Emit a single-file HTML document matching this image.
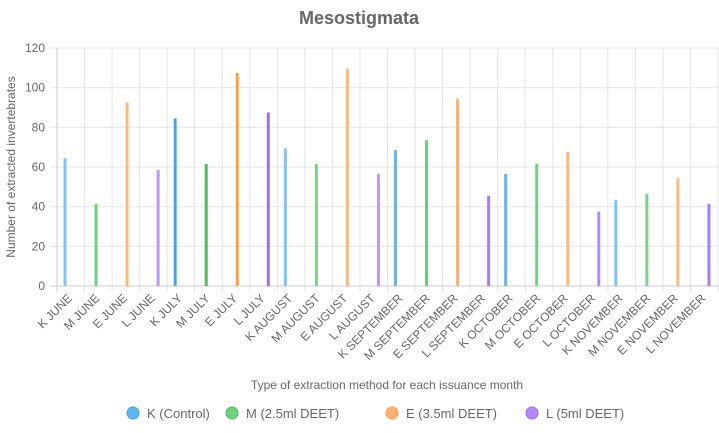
<!DOCTYPE html><html><head><style>body{margin:0;background:#fff}svg{display:block;font-family:"Liberation Sans",Arial,sans-serif}</style></head><body>
<svg width="719" height="433" viewBox="0 0 719 433">
<text x="359" y="24" text-anchor="middle" font-size="18" font-weight="bold" fill="#666">Mesostigmata</text>
<g stroke="#e4e4e4">
<line x1="50" x2="718" y1="48" y2="48"/><line x1="50" x2="718" y1="87.7" y2="87.7"/><line x1="50" x2="718" y1="127.3" y2="127.3"/><line x1="50" x2="718" y1="167" y2="167"/><line x1="50" x2="718" y1="206.7" y2="206.7"/><line x1="50" x2="718" y1="246.3" y2="246.3"/>
<line x1="84.54" x2="84.54" y1="48" y2="292"/><line x1="112.08" x2="112.08" y1="48" y2="292"/><line x1="139.63" x2="139.63" y1="48" y2="292"/><line x1="167.17" x2="167.17" y1="48" y2="292"/><line x1="194.71" x2="194.71" y1="48" y2="292"/><line x1="222.25" x2="222.25" y1="48" y2="292"/><line x1="249.79" x2="249.79" y1="48" y2="292"/><line x1="277.33" x2="277.33" y1="48" y2="292"/><line x1="304.88" x2="304.88" y1="48" y2="292"/><line x1="332.42" x2="332.42" y1="48" y2="292"/><line x1="359.96" x2="359.96" y1="48" y2="292"/><line x1="387.5" x2="387.5" y1="48" y2="292"/><line x1="415.04" x2="415.04" y1="48" y2="292"/><line x1="442.58" x2="442.58" y1="48" y2="292"/><line x1="470.13" x2="470.13" y1="48" y2="292"/><line x1="497.67" x2="497.67" y1="48" y2="292"/><line x1="525.21" x2="525.21" y1="48" y2="292"/><line x1="552.75" x2="552.75" y1="48" y2="292"/><line x1="580.29" x2="580.29" y1="48" y2="292"/><line x1="607.83" x2="607.83" y1="48" y2="292"/><line x1="635.38" x2="635.38" y1="48" y2="292"/><line x1="662.92" x2="662.92" y1="48" y2="292"/><line x1="690.46" x2="690.46" y1="48" y2="292"/><line x1="718" x2="718" y1="48" y2="292"/>
</g>
<g stroke="#ccc"><line x1="50" x2="718" y1="286" y2="286"/><line x1="57" x2="57" y1="48" y2="292"/></g>
<g font-size="12" fill="#666" text-anchor="end">
<text x="45" y="52">120</text><text x="45" y="91.7">100</text><text x="45" y="131.3">80</text><text x="45" y="171">60</text><text x="45" y="210.7">40</text><text x="45" y="250.3">20</text><text x="45" y="290">0</text>
</g>
<g stroke-width="3">
<line x1="65" x2="65" y1="158.1" y2="286" stroke="#7cc4f2"/>
<line x1="96.04" x2="96.04" y1="203.7" y2="286" stroke="#6fd07f"/>
<line x1="127.08" x2="127.08" y1="102.5" y2="286" stroke="#ffb878"/>
<line x1="158.13" x2="158.13" y1="170" y2="286" stroke="#b898ff"/>
<line x1="175.17" x2="175.17" y1="118.4" y2="286" stroke="#43a6ea"/>
<line x1="206.21" x2="206.21" y1="164" y2="286" stroke="#55b960"/>
<line x1="237.25" x2="237.25" y1="72.8" y2="286" stroke="#ffa040"/>
<line x1="268.29" x2="268.29" y1="112.5" y2="286" stroke="#9d70f2"/>
<line x1="285.33" x2="285.33" y1="148.2" y2="286" stroke="#7cc4f2"/>
<line x1="316.38" x2="316.38" y1="164" y2="286" stroke="#7fd08a"/>
<line x1="347.42" x2="347.42" y1="68.8" y2="286" stroke="#ffb878"/>
<line x1="378.46" x2="378.46" y1="173.9" y2="286" stroke="#b898ff"/>
<line x1="395.5" x2="395.5" y1="150.1" y2="286" stroke="#64b6ee"/>
<line x1="426.54" x2="426.54" y1="140.2" y2="286" stroke="#6acd79"/>
<line x1="457.58" x2="457.58" y1="98.6" y2="286" stroke="#ffae68"/>
<line x1="488.63" x2="488.63" y1="195.8" y2="286" stroke="#a47cff"/>
<line x1="505.67" x2="505.67" y1="173.9" y2="286" stroke="#5eb5ef"/>
<line x1="536.71" x2="536.71" y1="164" y2="286" stroke="#6fd07f"/>
<line x1="567.75" x2="567.75" y1="152.1" y2="286" stroke="#ffb878"/>
<line x1="598.79" x2="598.79" y1="211.6" y2="286" stroke="#ae8cff"/>
<line x1="615.83" x2="615.83" y1="199.7" y2="286" stroke="#7cc4f2"/>
<line x1="646.88" x2="646.88" y1="193.8" y2="286" stroke="#7fd08a"/>
<line x1="677.92" x2="677.92" y1="177.9" y2="286" stroke="#ffb878"/>
<line x1="708.96" x2="708.96" y1="203.7" y2="286" stroke="#a47cff"/>
</g>
<g font-size="12" fill="#666" text-anchor="end">
<text transform="translate(72.8,299) rotate(-45)">K JUNE</text>
<text transform="translate(100.3,299) rotate(-45)">M JUNE</text>
<text transform="translate(127.9,299) rotate(-45)">E JUNE</text>
<text transform="translate(155.4,299) rotate(-45)">L JUNE</text>
<text transform="translate(182.9,299) rotate(-45)">K JULY</text>
<text transform="translate(210.5,299) rotate(-45)">M JULY</text>
<text transform="translate(238,299) rotate(-45)">E JULY</text>
<text transform="translate(265.6,299) rotate(-45)">L JULY</text>
<text transform="translate(293.1,299) rotate(-45)">K AUGUST</text>
<text transform="translate(320.6,299) rotate(-45)">M AUGUST</text>
<text transform="translate(348.2,299) rotate(-45)">E AUGUST</text>
<text transform="translate(375.7,299) rotate(-45)">L AUGUST</text>
<text transform="translate(403.3,299) rotate(-45)">K SEPTEMBER</text>
<text transform="translate(430.8,299) rotate(-45)">M SEPTEMBER</text>
<text transform="translate(458.4,299) rotate(-45)">E SEPTEMBER</text>
<text transform="translate(485.9,299) rotate(-45)">L SEPTEMBER</text>
<text transform="translate(513.4,299) rotate(-45)">K OCTOBER</text>
<text transform="translate(541,299) rotate(-45)">M OCTOBER</text>
<text transform="translate(568.5,299) rotate(-45)">E OCTOBER</text>
<text transform="translate(596.1,299) rotate(-45)">L OCTOBER</text>
<text transform="translate(623.6,299) rotate(-45)">K NOVEMBER</text>
<text transform="translate(651.1,299) rotate(-45)">M NOVEMBER</text>
<text transform="translate(678.7,299) rotate(-45)">E NOVEMBER</text>
<text transform="translate(706.2,299) rotate(-45)">L NOVEMBER</text>
</g>
<text transform="translate(15,167) rotate(-90)" text-anchor="middle" font-size="12" fill="#666">Number of extracted invertebrates</text>
<text x="387" y="389" text-anchor="middle" font-size="12" fill="#666">Type of extraction method for each issuance month</text>
<circle cx="133" cy="413" r="6" fill="#5eb5ef" stroke="#36a2eb"/><text x="147" y="418" font-size="13" fill="#666">K (Control)</text>
<circle cx="232" cy="413" r="6" fill="#6fd07f" stroke="#4bc05d"/><text x="246" y="418" font-size="13" fill="#666">M (2.5ml DEET)</text>
<circle cx="392" cy="413" r="6" fill="#ffb070" stroke="#ff9f40"/><text x="406" y="418" font-size="13" fill="#666">E (3.5ml DEET)</text>
<circle cx="532" cy="413" r="6" fill="#b08cff" stroke="#9966ff"/><text x="546" y="418" font-size="13" fill="#666">L (5ml DEET)</text>
</svg>
</body></html>
